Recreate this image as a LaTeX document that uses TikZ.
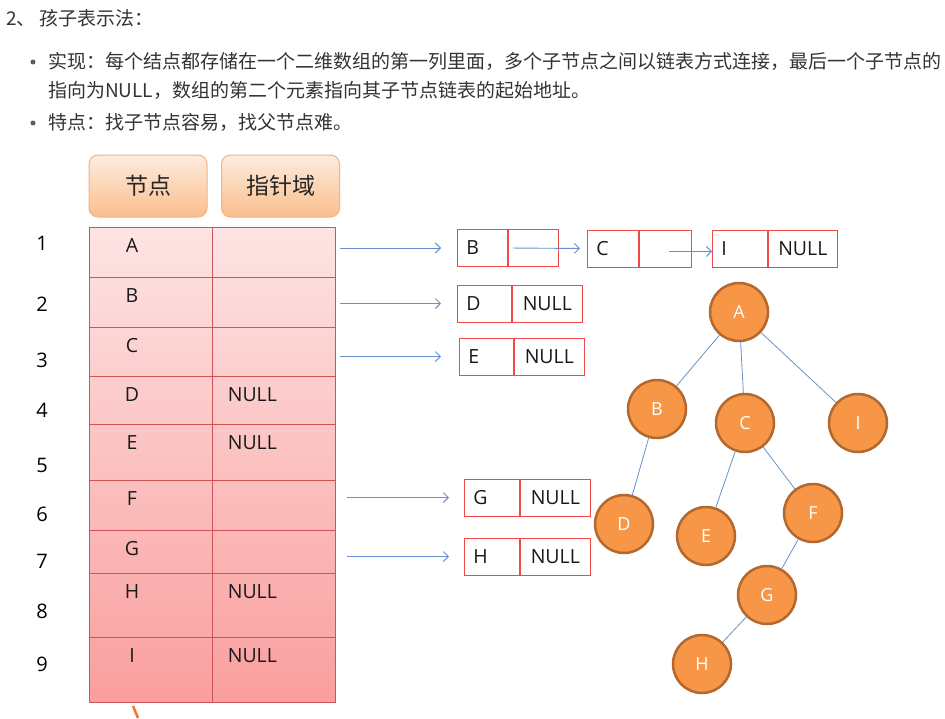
\documentclass[tikz,border=0pt]{standalone}
\usepackage{fontspec}
\setmainfont{Open Sans}
\newfontfamily\cjk{Noto Sans CJK SC}
\usetikzlibrary{arrows.meta,positioning,calc}
\definecolor{txtgray}{RGB}{51,51,51}
\definecolor{hdrtop}{RGB}{253,236,222}
\definecolor{hdrbot}{RGB}{250,190,140}
\definecolor{hdrline}{RGB}{244,177,131}
\definecolor{celltop}{RGB}{253,228,228}
\definecolor{cellbot}{RGB}{250,158,158}
\definecolor{cellline}{RGB}{205,85,85}
\definecolor{boxred}{RGB}{242,72,72}
\definecolor{linkblue}{RGB}{104,144,204}
\definecolor{treefill}{RGB}{247,150,70}
\definecolor{treeline}{RGB}{178,104,46}
\definecolor{curveorange}{RGB}{236,120,40}

\begin{document}
\begin{tikzpicture}[x=1pt, y=-1pt, every node/.style={inner sep=0pt},
  toptxt/.style={anchor=west, text=txtgray, font=\cjk\fontsize{19}{23}\selectfont},
  dot/.style={circle, fill=txtgray!80, minimum size=5pt},
  hdr/.style={draw=hdrline, line width=1pt, rounded corners=9pt, top color=hdrtop, bottom color=hdrbot, minimum width=118pt, minimum height=62pt, text=black!85, font=\cjk\fontsize{23}{26}\selectfont},
  cell/.style={draw=cellline, line width=0.8pt, minimum width=123pt},
  ltr/.style={text=black!90, font=\fontsize{19.5}{22}\selectfont},
  num/.style={text=black, font=\fontsize{20}{24}\selectfont},
  keybox/.style={draw=boxred, line width=0.9pt, minimum height=37pt, inner xsep=9pt, text width=#1, align=left, text=black!90, font=\fontsize{19.5}{22}\selectfont},
  ptrbox/.style={draw=boxred, line width=0.9pt, minimum height=37pt, minimum width=#1, text=black!90, font=\fontsize{19.5}{22}\selectfont},
  link/.style={draw=linkblue, line width=0.9pt, -{Straight Barb[length=5pt,width=10pt]}},
  tnode/.style={circle, draw=treeline, line width=2.5pt, fill=treefill, minimum size=58pt, text=white, font=\fontsize{18}{21}\selectfont},
  tedge/.style={draw=linkblue, line width=0.8pt}]
\useasboundingbox (0,0) rectangle (945,718);

\node[toptxt] (title) at (6,18) {2、 孩子表示法：};
\node[dot] (d1) at (33,62) {};
\node[toptxt] (l1) at (48,61) {实现：每个结点都存储在一个二维数组的第一列里面，多个子节点之间以链表方式连接，最后一个子节点的};
\node[toptxt] (l2) at (48,90) {指向为NULL，数组的第二个元素指向其子节点链表的起始地址。};
\node[dot] (d2) at (33,123) {};
\node[toptxt] (l3) at (48,122) {特点：找子节点容易，找父节点难。};

\node[hdr] (h1) at (148,186) {节点};
\node[hdr] (h2) at (280.5,186) {指针域};

\fill[top color=celltop, bottom color=cellbot] (89,227) rectangle (335,702);
\foreach \i/\ch/\t/\b/\y in {1/A/227/277/243, 2/B/277/327/304, 3/C/327/376/360, 4/D/376/424/410, 5/E/424/480/465, 6/F/480/530/514, 7/G/530/573/561, 8/H/573/637/611, 9/I/637/702/664} {
  \pgfmathsetmacro\h{\b-\t}
  \pgfmathsetmacro\c{(\t+\b)/2}
  \node[cell, minimum height=\h pt] (n\i) at (150.5,\c) {};
  \node[cell, minimum height=\h pt] (p\i) at (273.5,\c) {};
  \node[ltr] (c\i) at (132,\t+18.5) {\ch};
  \node[num] (r\i) at (42,\y) {\i};
}
\foreach \i in {4,5,8,9}
  \node[ltr, anchor=west, xshift=16pt] (q\i) at (c\i -| p\i.west) {NULL};
\draw[curveorange, line width=2.5pt] (133,706) -- (138,718);

\node[keybox=32pt, anchor=west] (lB) at (457,248) {B};
\node[ptrbox=50pt, right=0pt of lB] (lBp) {};
\node[keybox=33pt, anchor=west] (lC) at (587,248.5) {C};
\node[ptrbox=52pt, right=0pt of lC] (lCp) {};
\node[keybox=37pt, anchor=west] (lI) at (712,248.5) {I};
\node[ptrbox=69pt, right=0pt of lI] (lIp) {NULL};
\node[keybox=36pt, anchor=west] (lD) at (457,303.5) {D};
\node[ptrbox=70pt, right=0pt of lD] (lDp) {NULL};
\node[keybox=36pt, anchor=west] (lE) at (459,356.5) {E};
\node[ptrbox=70pt, right=0pt of lE] (lEp) {NULL};
\node[keybox=37pt, anchor=west] (lG) at (464,497.5) {G};
\node[ptrbox=70pt, right=0pt of lG] (lGp) {NULL};
\node[keybox=37pt, anchor=west] (lH) at (464,556.5) {H};
\node[ptrbox=70pt, right=0pt of lH] (lHp) {NULL};

\draw[link, shorten <=5pt, shorten >=16pt] (p1.east |- lB.west) -- (lB.west);
\draw[link, shorten <=5pt, shorten >=16pt] (p2.east |- lD.west) -- (lD.west);
\draw[link, shorten <=5pt, shorten >=18pt] (p3.east |- lE.west) -- (lE.west);
\draw[link, shorten <=12pt, shorten >=15pt] (p6.east |- lG.west) -- (lG.west);
\draw[link, shorten <=12pt, shorten >=15pt] (p7.east |- lH.west) -- (lH.west);
\draw[link, shorten <=5pt, shorten >=7pt] (lBp.west) -- (lC.west);
\draw[link, shorten <=4pt] ([yshift=-3pt]lCp.center) -- ([yshift=-3pt]lI.west);

\foreach \n/\x/\y in {A/739/312, B/657/409, C/745/423, I/858/423, D/624/524, E/706/536, F/813/513, G/767/595, H/702/664}
  \node[tnode] (t\n) at (\x,\y) {\n};
\foreach \a/\b in {A/B, A/C, A/I, B/D, C/E, C/F, F/G, G/H}
  \draw[tedge] (t\a) -- (t\b);
\end{tikzpicture}
\end{document}
